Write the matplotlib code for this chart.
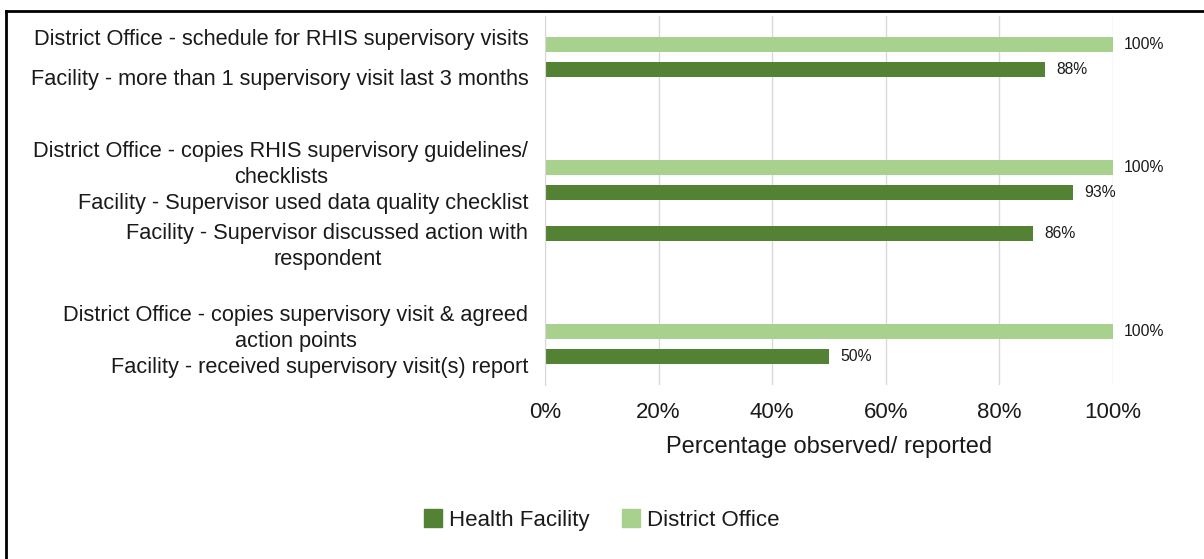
import numpy as np
import matplotlib.pyplot as plt
from matplotlib.lines import Line2D
from matplotlib.patches import Patch

plt.rcParams['font.family'] = ['Liberation Sans', 'DejaVu Sans']

categories = [
    "District Office - schedule for RHIS supervisory visits",
    "Facility - more than 1 supervisory visit last 3 months",
    "",
    "District Office - copies RHIS supervisory guidelines/\nchecklists",
    "Facility - Supervisor used data quality checklist",
    "Facility - Supervisor discussed action with\nrespondent",
    "",
    "District Office - copies supervisory visit & agreed\naction points",
    "Facility - received supervisory visit(s) report",
]
health_facility = [np.nan, 88, np.nan, np.nan, 93, 86, np.nan, np.nan, 50]
district_office = [100, np.nan, np.nan, 100, np.nan, np.nan, np.nan, 100, np.nan]
x_ticks = [0, 20, 40, 60, 80, 100]

dark = '#548235'
light = '#A9D18E'
txt = '#1a1a1a'

fig = plt.figure(figsize=(12.04, 5.59), dpi=100)
ax = fig.add_axes([545 / 1204, 1 - 385 / 559, 568 / 1204, 369 / 559])

y = np.arange(len(categories))
h = 0.37
hf = ax.barh(y - 0.195, health_facility, height=h, color=dark, label='Health Facility')
do = ax.barh(y + 0.205, district_office, height=h, color=light, label='District Office')

for bars, vals in ((hf, health_facility), (do, district_office)):
    for b, v in zip(bars, vals):
        if np.isnan(v):
            continue
        ax.annotate(f"{v:.0f}%", (v, b.get_y() + b.get_height() / 2),
                    xytext=(8, 0), textcoords='offset points',
                    va='center', ha='left', fontsize=11.3, color=txt)

ax.set_xlim(0, 100)
ax.set_ylim(len(categories) - 0.5, -0.5)
ax.set_xticks(x_ticks)
ax.set_xticklabels([f"{t}%" for t in x_ticks])
ax.set_yticks(y)
ax.set_yticklabels(categories, multialignment='center', linespacing=1.3)
ax.tick_params(axis='both', length=0, colors=txt)
ax.tick_params(axis='y', pad=12, labelsize=15.7)
ax.tick_params(axis='x', pad=12.5, labelsize=16)
ax.set_xlabel("Percentage observed/ reported", fontsize=17, color=txt, labelpad=9)

ax.grid(axis='x', color='#d9d9d9', linewidth=1)
ax.set_axisbelow(True)
for s in ('top', 'right', 'bottom'):
    ax.spines[s].set_visible(False)
ax.spines['left'].set_color('#d9d9d9')

handles = [Patch(color=dark, label='Health Facility'),
           Patch(color=light, label='District Office')]
fig.legend(handles=handles, loc='center', bbox_to_anchor=(0.5, 1 - 520 / 559),
           ncol=2, frameon=False, fontsize=16, handlelength=0.82, handleheight=0.86,
           handletextpad=0.32, columnspacing=1.45, labelcolor=txt)

# outer frame (top and left edges)
fig.add_artist(Line2D([6 / 1204, 1], [1 - 11 / 559, 1 - 11 / 559],
                      transform=fig.transFigure, color='black', linewidth=2))
fig.add_artist(Line2D([6 / 1204, 6 / 1204], [0, 1 - 11 / 559],
                      transform=fig.transFigure, color='black', linewidth=2))

fig.savefig('out.png', dpi=100)
